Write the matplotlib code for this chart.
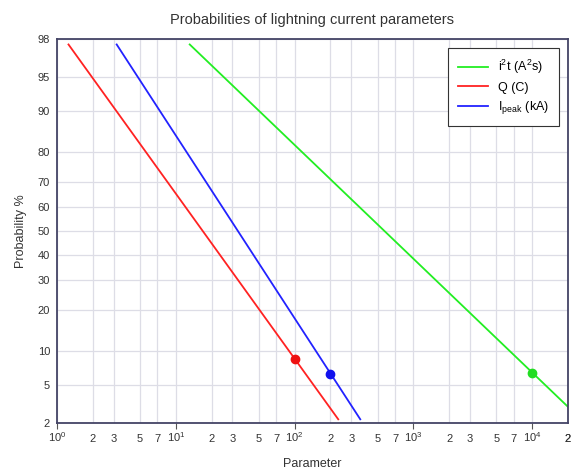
import math
import numpy as np
import matplotlib
matplotlib.use("Agg")
import matplotlib.pyplot as plt

plt.rcParams['font.family'] = ['Liberation Sans', 'DejaVu Sans']

# values: (parameter, probability %) at both line ends
i2t_x = [13.1, 2.0e4]
i2t_p = [97.7, 3.0]
q_x = [1.25, 233]
q_p = [97.7, 2.2]
ipk_x = [3.18, 357]
ipk_p = [97.7, 2.2]

# marked points
mark_x = [1.0e4, 100, 200]
mark_p = [6.4, 8.6, 6.3]

ytick_vals = [2, 5, 10, 20, 30, 40, 50, 60, 70, 80, 90, 95, 98]
decades = [1, 10, 100, 1000, 10000]
decade_labels = [r'$\mathregular{10^{%d}}$' % i for i in range(5)]
minor_vals = [m * d for d in decades for m in (2, 3, 5, 7)] + [2e4]
minor_vals = [v for v in minor_vals if v <= 2e4]
minor_labels = ['%d' % int(str(int(v))[0]) for v in minor_vals]

# normal probability scale (Acklam's approximation for the inverse)
A = [-3.969683028665376e+01, 2.209460984245205e+02, -2.759285104469687e+02,
     1.383577518672690e+02, -3.066479806614716e+01, 2.506628277459239e+00]
B = [-5.447609879822406e+01, 1.615858368580409e+02, -1.556989798598866e+02,
     6.680131188771972e+01, -1.328068155288572e+01]
C = [-7.784894002430293e-03, -3.223964580411365e-01, -2.400758277161838e+00,
     -2.549732539343734e+00, 4.374664141464968e+00, 2.938163982698783e+00]
D = [7.784695709041462e-03, 3.224671290700398e-01, 2.445134137142996e+00,
     3.754408661907416e+00]


def ppf(pct):
    p = np.clip(np.asarray(pct, dtype=float) / 100.0, 1e-9, 1 - 1e-9)
    plow = 0.02425
    q = p - 0.5
    r = q * q
    mid = (((((A[0]*r + A[1])*r + A[2])*r + A[3])*r + A[4])*r + A[5]) * q / \
          (((((B[0]*r + B[1])*r + B[2])*r + B[3])*r + B[4])*r + 1)
    ql = np.sqrt(-2 * np.log(np.minimum(p, 1 - p)))
    tail = (((((C[0]*ql + C[1])*ql + C[2])*ql + C[3])*ql + C[4])*ql + C[5]) / \
           ((((D[0]*ql + D[1])*ql + D[2])*ql + D[3])*ql + 1)
    out = np.where(p < plow, tail, np.where(p > 1 - plow, -tail, mid))
    return out


_erf = np.vectorize(math.erf)


def cdf(z):
    z = np.asarray(z, dtype=float)
    return 50.0 * (1 + _erf(z / math.sqrt(2)))


fig = plt.figure(figsize=(5.79, 4.74), dpi=100)
ax = fig.add_axes([0.0984, 0.1076, 0.8826, 0.8101])
ax.set_xscale('log')
ax.set_yscale('function', functions=(ppf, cdf))

ax.plot(i2t_x, i2t_p, color='#22ee22', lw=1.3, label=r'$\mathregular{i^2t\ (A^2s)}$')
ax.plot(q_x, q_p, color='#ff2222', lw=1.3, label='Q (C)')
ax.plot(ipk_x, ipk_p, color='#2222ff', lw=1.3, label=r'$\mathregular{I_{peak}\ (kA)}$')
for x, p, c in zip(mark_x, mark_p, ['#22dd22', '#ee1111', '#1111ee']):
    ax.plot([x], [p], 'o', color=c, ms=6, zorder=5)

ax.set_xlim(1, 2e4)
ax.set_ylim(2, 98)

ax.set_xticks(decades, decade_labels)
ax.set_xticks(minor_vals, minor_labels, minor=True)
ax.set_yticks(ytick_vals, [str(v) for v in ytick_vals])
ax.yaxis.set_minor_locator(matplotlib.ticker.NullLocator())

ax.tick_params(axis='x', which='major', length=4, width=0.8, color='#555555',
               labelsize=8, labelcolor='#333333', pad=1)
ax.tick_params(axis='x', which='minor', length=0, labelsize=8,
               labelcolor='#333333', pad=8)
ax.tick_params(axis='y', length=0, labelsize=8, labelcolor='#333333', pad=5)

ax.grid(True, which='both', color='#dddde6', lw=0.9)
ax.set_axisbelow(True)
for s in ax.spines.values():
    s.set_color('#444466')
    s.set_linewidth(1.3)

ax.set_title('Probabilities of lightning current parameters', fontsize=10.5,
             color='#333333', pad=11)
ax.set_xlabel('Parameter', fontsize=9, color='#333333', labelpad=10)
ax.set_ylabel('Probability %', fontsize=9, color='#333333', labelpad=8)

leg = ax.legend(loc='upper right', fontsize=9, fancybox=False, framealpha=1,
                edgecolor='#333333', handlelength=2.4, borderaxespad=0.7,
                labelspacing=0.45, borderpad=0.8)
leg.get_frame().set_linewidth(0.8)

fig.savefig('out.png', dpi=100)
